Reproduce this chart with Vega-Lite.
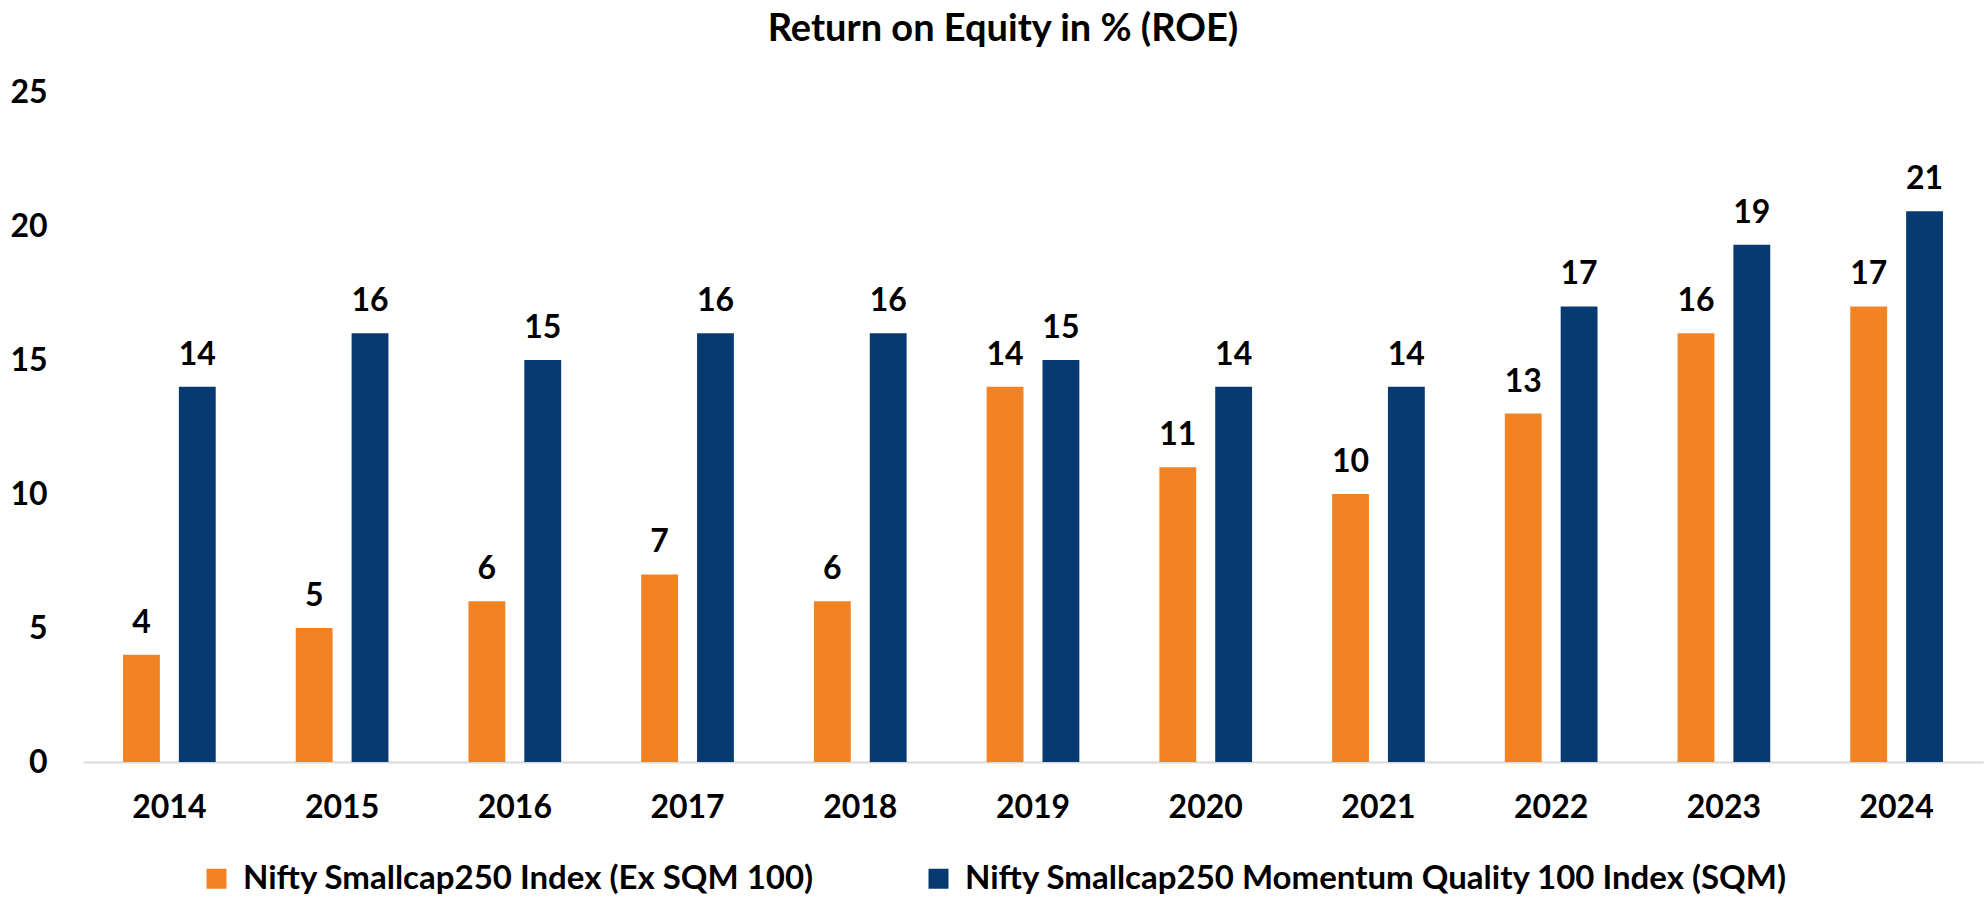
{
  "$schema": "https://vega.github.io/schema/vega-lite/v6.json",
  "width": 1900,
  "height": 670,
  "autosize": {"type": "none"},
  "padding": {"left": 83, "top": 92, "right": 5, "bottom": 135},
  "background": "white",
  "title": {
    "text": "Return on Equity in % (ROE)",
    "font": "Lato",
    "fontSize": 38,
    "fontWeight": "bold",
    "color": "#000000",
    "anchor": "middle",
    "frame": "group",
    "dx": -30,
    "offset": 27
  },
  "data": {
    "values": [
      {"year": "2014", "series": "Nifty Smallcap250 Index (Ex SQM 100)", "roe": 4},
      {"year": "2015", "series": "Nifty Smallcap250 Index (Ex SQM 100)", "roe": 5},
      {"year": "2016", "series": "Nifty Smallcap250 Index (Ex SQM 100)", "roe": 6},
      {"year": "2017", "series": "Nifty Smallcap250 Index (Ex SQM 100)", "roe": 7},
      {"year": "2018", "series": "Nifty Smallcap250 Index (Ex SQM 100)", "roe": 6},
      {"year": "2019", "series": "Nifty Smallcap250 Index (Ex SQM 100)", "roe": 14},
      {"year": "2020", "series": "Nifty Smallcap250 Index (Ex SQM 100)", "roe": 11},
      {"year": "2021", "series": "Nifty Smallcap250 Index (Ex SQM 100)", "roe": 10},
      {"year": "2022", "series": "Nifty Smallcap250 Index (Ex SQM 100)", "roe": 13},
      {"year": "2023", "series": "Nifty Smallcap250 Index (Ex SQM 100)", "roe": 16},
      {"year": "2024", "series": "Nifty Smallcap250 Index (Ex SQM 100)", "roe": 17},
      {"year": "2014", "series": "Nifty Smallcap250 Momentum Quality 100 Index (SQM)", "roe": 14},
      {"year": "2015", "series": "Nifty Smallcap250 Momentum Quality 100 Index (SQM)", "roe": 16},
      {"year": "2016", "series": "Nifty Smallcap250 Momentum Quality 100 Index (SQM)", "roe": 15},
      {"year": "2017", "series": "Nifty Smallcap250 Momentum Quality 100 Index (SQM)", "roe": 16},
      {"year": "2018", "series": "Nifty Smallcap250 Momentum Quality 100 Index (SQM)", "roe": 16},
      {"year": "2019", "series": "Nifty Smallcap250 Momentum Quality 100 Index (SQM)", "roe": 15},
      {"year": "2020", "series": "Nifty Smallcap250 Momentum Quality 100 Index (SQM)", "roe": 14},
      {"year": "2021", "series": "Nifty Smallcap250 Momentum Quality 100 Index (SQM)", "roe": 14},
      {"year": "2022", "series": "Nifty Smallcap250 Momentum Quality 100 Index (SQM)", "roe": 17},
      {"year": "2023", "series": "Nifty Smallcap250 Momentum Quality 100 Index (SQM)", "roe": 19.3},
      {"year": "2024", "series": "Nifty Smallcap250 Momentum Quality 100 Index (SQM)", "roe": 20.55}
    ]
  },
  "encoding": {
    "x": {
      "field": "year",
      "type": "nominal",
      "scale": {"paddingInner": 0.4633, "paddingOuter": 0.2317},
      "axis": {
        "title": null,
        "labelAngle": 0,
        "labelFont": "Lato",
        "labelFontSize": 32,
        "labelFontWeight": "bold",
        "labelColor": "#000000",
        "labelPadding": 30,
        "ticks": false,
        "domainColor": "#d9d9d9",
        "domainWidth": 2
      }
    },
    "xOffset": {
      "field": "series",
      "type": "nominal",
      "sort": ["Nifty Smallcap250 Index (Ex SQM 100)", "Nifty Smallcap250 Momentum Quality 100 Index (SQM)"],
      "scale": {"paddingInner": 0.34, "paddingOuter": 0}
    },
    "y": {
      "field": "roe",
      "type": "quantitative",
      "scale": {"domain": [0, 25], "nice": false},
      "axis": {
        "title": null,
        "values": [0, 5, 10, 15, 20, 25],
        "grid": false,
        "domain": false,
        "ticks": false,
        "labelFont": "Lato",
        "labelFontSize": 32,
        "labelFontWeight": "bold",
        "labelColor": "#000000",
        "labelPadding": 36
      }
    }
  },
  "layer": [
    {
      "mark": {"type": "bar"},
      "encoding": {
        "color": {
          "field": "series",
          "type": "nominal",
          "scale": {
            "domain": ["Nifty Smallcap250 Index (Ex SQM 100)", "Nifty Smallcap250 Momentum Quality 100 Index (SQM)"],
            "range": ["#F28325", "#083A72"]
          },
          "legend": {
            "title": null,
            "orient": "none",
            "direction": "horizontal",
            "legendX": 117,
            "legendY": 770,
            "padding": 0,
            "symbolType": "square",
            "symbolSize": 400,
            "symbolStrokeWidth": 0,
            "labelFont": "Lato",
            "labelFontSize": 33,
            "labelFontWeight": "bold",
            "labelColor": "#000000",
            "labelLimit": 1000,
            "labelOffset": 10,
            "columnPadding": 108
          }
        }
      }
    },
    {
      "mark": {"type": "text", "font": "Lato", "fontSize": 32, "fontWeight": "bold", "color": "#000000", "baseline": "alphabetic", "dy": -22},
      "encoding": {
        "text": {"field": "roe", "type": "quantitative", "format": ".0f"}
      }
    }
  ],
  "config": {"view": {"stroke": null}}
}
